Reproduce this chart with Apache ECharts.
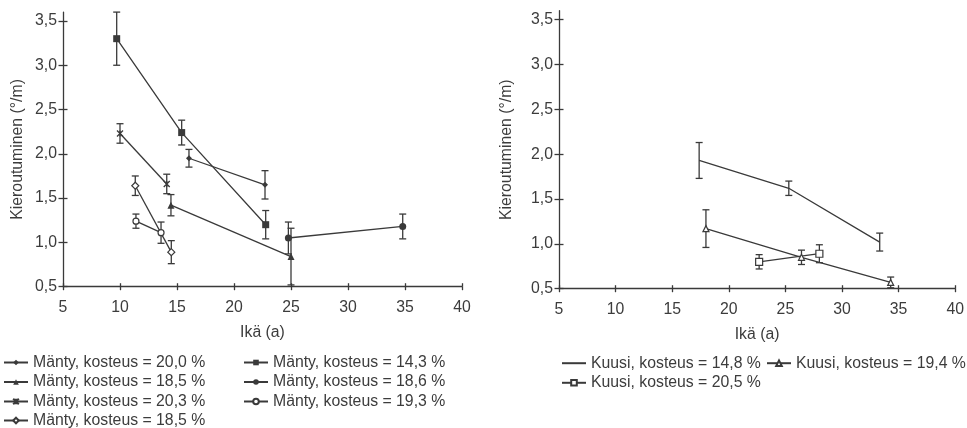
<!DOCTYPE html>
<html>
<head>
<meta charset="utf-8">
<script src="https://cdn.jsdelivr.net/npm/echarts@6/dist/echarts.min.js"></script>
<style>
  html, body { margin: 0; padding: 0; background: #fff; }
  #chart { width: 967px; height: 428px; }
</style>
</head>
<body>
<div id="chart"></div>
<script>
// Ikä (a), kieroutuminen (°/m) ja keskihajonta, mänty
const ageM200 = [16.05, 22.72], valM200 = [1.95, 1.65], errM200 = [0.10, 0.16];
const ageM185a = [14.47, 25.0], valM185a = [1.42, 0.84], errM185a = [0.12, 0.32];
const ageM203 = [10.0, 14.1], valM203 = [2.23, 1.66], errM203 = [0.11, 0.11];
const ageM185b = [11.34, 14.5], valM185b = [1.64, 0.89], errM185b = [0.11, 0.13];
const ageM143 = [9.71, 15.41, 22.78], valM143 = [3.30, 2.24, 1.20], errM143 = [0.30, 0.14, 0.16];
const ageM186 = [24.77, 34.8], valM186 = [1.05, 1.18], errM186 = [0.18, 0.14];
const ageM193 = [11.4, 13.6], valM193 = [1.24, 1.11], errM193 = [0.08, 0.12];

// kuusi
const ageK148 = [17.38, 25.3, 33.33], valK148 = [1.93, 1.62, 1.02], errK148 = [0.20, 0.08, 0.10];
const ageK194 = [17.98, 26.42, 34.3], valK194 = [1.17, 0.85, 0.57], errK194 = [0.21, 0.08, 0.06];
const ageK205 = [22.68, 28.0], valK205 = [0.80, 0.89], errK205 = [0.08, 0.10];

// akselit
const xTicks = [5, 10, 15, 20, 25, 30, 35, 40];
const yTicks = [0.5, 1.0, 1.5, 2.0, 2.5, 3.0, 3.5];
const xName = 'Ikä (a)';
const yName = 'Kieroutuminen (°/m)';

// sarjojen nimet (kaksi samannimistä sarjaa erotetaan #-päätteellä)
const nM200 = 'Mänty, kosteus = 20,0 %';
const nM185a = 'Mänty, kosteus = 18,5 %';
const nM203 = 'Mänty, kosteus = 20,3 %';
const nM185b = 'Mänty, kosteus = 18,5 %#2';
const nM143 = 'Mänty, kosteus = 14,3 %';
const nM186 = 'Mänty, kosteus = 18,6 %';
const nM193 = 'Mänty, kosteus = 19,3 %';
const nK148 = 'Kuusi, kosteus = 14,8 %';
const nK194 = 'Kuusi, kosteus = 19,4 %';
const nK205 = 'Kuusi, kosteus = 20,5 %';

const FONT = "'Liberation Sans', Arial, sans-serif";
const FS = 15.8;
const INK = '#3a3a3a';
const TXT = '#3c3c3c';

const zip = (xs, ys) => xs.map((x, i) => [x, ys[i]]);
const errRows = (xs, ys, es) => xs.map((x, i) => [x, ys[i] - es[i], ys[i] + es[i]]);

const asterisk = 'path://M0,0L10,10M0,10L10,0M5,0L5,10';

function lineSeries(name, xs, ys, axis, symbol, size, open) {
  return {
    type: 'line', name: name,
    xAxisIndex: axis, yAxisIndex: axis,
    data: zip(xs, ys),
    symbol: symbol, symbolSize: size,
    showSymbol: symbol !== 'none',
    lineStyle: { color: INK, width: 1.3 },
    itemStyle: open
      ? { color: '#fff', borderColor: INK, borderWidth: 1.2 }
      : { color: INK, borderColor: INK, borderWidth: symbol === asterisk ? 1.3 : 0 },
    z: 3, animation: false, silent: true
  };
}

function errSeries(xs, ys, es, axis) {
  return {
    type: 'custom',
    xAxisIndex: axis, yAxisIndex: axis,
    data: errRows(xs, ys, es),
    encode: { x: 0, y: [1, 2] },
    z: 2, animation: false, silent: true,
    renderItem: function (params, api) {
      const x = api.value(0);
      const lo = api.coord([x, api.value(1)]);
      const hi = api.coord([x, api.value(2)]);
      const w = 3.5;
      const st = { stroke: INK, lineWidth: 1.3 };
      return {
        type: 'group',
        children: [
          { type: 'line', shape: { x1: lo[0], y1: lo[1], x2: hi[0], y2: hi[1] }, style: st },
          { type: 'line', shape: { x1: lo[0] - w, y1: lo[1], x2: lo[0] + w, y2: lo[1] }, style: st },
          { type: 'line', shape: { x1: hi[0] - w, y1: hi[1], x2: hi[0] + w, y2: hi[1] }, style: st }
        ]
      };
    }
  };
}

const fmtY = v => v.toFixed(1).replace('.', ',');

function xAxes(grid, inner) {
  return {
    type: 'value', gridIndex: grid, min: 5, max: 40, interval: 5,
    position: 'bottom',
    name: inner ? '' : xName, nameLocation: 'middle', nameGap: 38,
    nameTextStyle: { fontFamily: FONT, fontSize: FS, color: TXT },
    axisLine: { show: !inner, lineStyle: { color: INK, width: 1.3 } },
    axisTick: { show: true, inside: inner, length: 3.5, customValues: xTicks, lineStyle: { color: INK, width: 1.3 } },
    axisLabel: { show: !inner, margin: 13, customValues: xTicks, fontFamily: FONT, fontSize: FS, color: TXT },
    splitLine: { show: false }
  };
}

function yAxes(grid, inner, gap) {
  return {
    type: 'value', gridIndex: grid, min: 0.5, max: 3.6, interval: 0.5,
    position: 'left',
    name: inner ? '' : yName, nameLocation: 'middle', nameGap: gap,
    nameTextStyle: { fontFamily: FONT, fontSize: FS, color: TXT },
    axisLine: { show: !inner, lineStyle: { color: INK, width: 1.3 } },
    axisTick: { show: true, inside: inner, length: 4.5, customValues: yTicks, lineStyle: { color: INK, width: 1.3 } },
    axisLabel: { show: !inner, margin: 6, customValues: yTicks, formatter: fmtY, fontFamily: FONT, fontSize: FS, color: TXT },
    splitLine: { show: false }
  };
}

function legendAt(name, left, cy, noMarker) {
  return {
    data: [noMarker ? { name: name, itemStyle: { opacity: 0 } } : name],
    left: left, top: cy - 7.5, padding: 0,
    itemWidth: 24, itemHeight: 7, selectedMode: false,
    formatter: n => n.split('#')[0],
    textStyle: { fontFamily: FONT, fontSize: FS, color: TXT }
  };
}

const option = {
  backgroundColor: '#fff',
  animation: false,
  grid: [
    { left: 63, right: 505, top: 12.1, bottom: 141.3 },
    { left: 559, right: 11.3, top: 10.7, bottom: 139.3 }
  ],
  xAxis: [xAxes(0, false), xAxes(0, true), xAxes(1, false), xAxes(1, true)],
  yAxis: [yAxes(0, false, 37), yAxes(0, true, 37), yAxes(1, false, 44), yAxes(1, true, 44)],
  legend: [
    legendAt(nM200, 3, 362),
    legendAt(nM185a, 3, 381.5),
    legendAt(nM203, 3, 401),
    legendAt(nM185b, 3, 420),
    legendAt(nM143, 243, 362),
    legendAt(nM186, 243, 381.5),
    legendAt(nM193, 243, 401),
    legendAt(nK148, 561, 362.7, true),
    legendAt(nK194, 766, 362.7),
    legendAt(nK205, 561, 382.3)
  ],
  series: [
    errSeries(ageM200, valM200, errM200, 0),
    errSeries(ageM185a, valM185a, errM185a, 0),
    errSeries(ageM203, valM203, errM203, 0),
    errSeries(ageM185b, valM185b, errM185b, 0),
    errSeries(ageM143, valM143, errM143, 0),
    errSeries(ageM186, valM186, errM186, 0),
    errSeries(ageM193, valM193, errM193, 0),
    errSeries(ageK148, valK148, errK148, 2),
    errSeries(ageK194, valK194, errK194, 2),
    errSeries(ageK205, valK205, errK205, 2),
    lineSeries(nM200, ageM200, valM200, 0, 'diamond', 6, false),
    lineSeries(nM185a, ageM185a, valM185a, 0, 'triangle', 7, false),
    lineSeries(nM203, ageM203, valM203, 0, asterisk, 6, false),
    lineSeries(nM185b, ageM185b, valM185b, 0, 'diamond', 7, true),
    lineSeries(nM143, ageM143, valM143, 0, 'rect', 7, false),
    lineSeries(nM186, ageM186, valM186, 0, 'circle', 7, false),
    lineSeries(nM193, ageM193, valM193, 0, 'circle', 6, true),
    lineSeries(nK148, ageK148, valK148, 2, 'none', 0, false),
    lineSeries(nK194, ageK194, valK194, 2, 'triangle', 6, true),
    lineSeries(nK205, ageK205, valK205, 2, 'rect', 7, true)
  ]
};

const chart = echarts.init(document.getElementById('chart'), null, { renderer: 'canvas' });
chart.setOption(option);
</script>
</body>
</html>
